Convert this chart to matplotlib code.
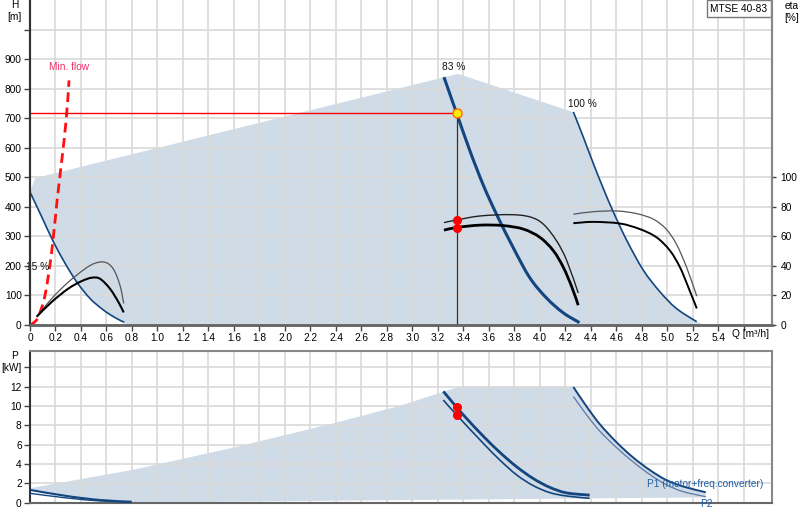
import numpy as np
import matplotlib
matplotlib.use("Agg")
import matplotlib.pyplot as plt
from matplotlib.patches import Polygon, PathPatch
from matplotlib.path import Path

plt.rcParams['font.family'] = ['Liberation Sans', 'DejaVu Sans']
FS = 7.3

# ---------------- data ----------------
# H curves [m] vs Q [m3/h]
q_h15 = [0.0, 0.092, 0.183, 0.275, 0.366, 0.47, 0.575, 0.667, 0.74]
h_15 = [450, 366, 282, 209, 146, 90, 51, 25, 9]
q_h83 = [3.247, 3.346, 3.451, 3.555, 3.66, 3.79, 3.92, 4.05, 4.18, 4.31]
h_83 = [839, 717, 589, 474, 374, 262, 160, 92, 42, 8]
q_h100 = [4.262, 4.34, 4.418, 4.497, 4.575, 4.68, 4.81, 4.94, 5.07, 5.23]
h_100 = [721, 636, 547, 462, 383, 287, 186, 113, 56, 11]
# envelope of the operating range (upper edge)
q_env = [0.04, 3.357, 4.256]
h_env = [497, 850, 721]
q_env_end = [5.29, 0.74]
h_env_end = [0, 0]
# min flow
q_min = [0.0, 0.03, 0.065, 0.118, 0.17, 0.212, 0.25, 0.285, 0.306]
h_min = [0, 8, 28, 101, 248, 419, 560, 701, 828]
# duty point
q_duty = 3.346
h_duty = 717

# efficiency curves [%]
q_e15 = [0.052, 0.17, 0.30, 0.405, 0.484, 0.549, 0.627, 0.693, 0.735]
eta15_lo = [5.6, 15.6, 24.6, 29.7, 32.0, 31.3, 24.6, 15.6, 8.5]
q_e15u = [0.052, 0.17, 0.30, 0.431, 0.51, 0.588, 0.653, 0.706, 0.735]
eta15_hi = [5.6, 17.9, 29.0, 38.0, 41.8, 42.5, 38.0, 26.8, 14.6]
q_e83 = [3.247, 3.346, 3.53, 3.71, 3.87, 4.0, 4.105, 4.183, 4.25, 4.30]
eta83_lo = [64.2, 66.0, 67.6, 67.3, 64.9, 59.3, 50.3, 39.1, 25.7, 13.4]
q_e83u = [3.247, 3.346, 3.53, 3.765, 3.92, 4.026, 4.13, 4.21, 4.30]
eta83_hi = [69.3, 71.1, 73.8, 74.7, 73.2, 68.3, 57.0, 43.6, 21.7]
q_e100 = [4.262, 4.418, 4.627, 4.784, 4.915, 5.02, 5.098, 5.163, 5.23]
eta100_lo = [68.9, 69.8, 68.7, 64.9, 59.3, 50.3, 39.1, 25.7, 11.2]
q_e100u = [4.262, 4.418, 4.60, 4.758, 4.89, 4.99, 5.07, 5.15, 5.23]
eta100_hi = [75.0, 76.7, 77.2, 75.4, 71.6, 64.9, 54.8, 39.1, 19.5]
eta_duty = [71.1, 65.6]

# power curves [kW]
q_p15 = [0.0, 0.288, 0.549, 0.797]
p1_15 = [1.32, 0.69, 0.28, 0.10]
p2_15 = [0.97, 0.49, 0.18, 0.05]
q_p83 = [3.242, 3.346, 3.425, 3.555, 3.686, 3.817, 3.948, 4.078, 4.21, 4.39]
p1_83 = [11.5, 9.87, 8.69, 6.87, 5.19, 3.71, 2.49, 1.58, 1.01, 0.78]
q_p83b = [3.242, 3.346, 3.555, 3.686, 3.817, 3.948, 4.078, 4.21, 4.39]
p2_83 = [10.6, 9.07, 6.14, 4.4, 2.87, 1.76, 1.04, 0.69, 0.45]
q_p100 = [4.262, 4.366, 4.47, 4.60, 4.73, 4.863, 4.99, 5.124, 5.30]
p1_100 = [11.95, 9.93, 8.1, 6.25, 4.68, 3.36, 2.35, 1.67, 1.08]
p2_100 = [10.97, 9.07, 7.38, 5.70, 4.22, 2.90, 1.86, 1.14, 0.62]
p_duty = [9.87, 9.07]
# power envelope
q_penv = [0.0, 0.81, 1.6, 2.38, 2.9, 3.37, 4.26]
p_penv = [1.5, 3.4, 5.7, 8.2, 10.0, 12.0, 12.0]
q_penv_end = [5.30, 0.8]
p_penv_end = [0.55, 0.02]

x_ticks = [round(0.2 * i, 1) for i in range(29)]
x_labels = ['0'] + [f'{v:.1f}' for v in x_ticks[1:28]] + ['']
h_ticks = list(range(0, 1001, 100))
h_labels = [str(v) for v in h_ticks[:-1]] + ['']
eta_ticks = [0, 20, 40, 60, 80, 100]
p_ticks = [0, 2, 4, 6, 8, 10, 12, 14]
p_labels = ['0', '2', '4', '6', '8', '10', '12', '[kW]']

# ---------------- styles ----------------
SHADE = '#cfdbe7'
GRID = '#d9d9d9'
NAVY = '#13457f'


def smooth_path(xs, ys):
    """Catmull-Rom curve through the given points, as a Bezier path."""
    p = np.column_stack([xs, ys]).astype(float)
    verts = [p[0]]
    codes = [Path.MOVETO]
    n = len(p)
    for i in range(n - 1):
        p0 = p[i - 1] if i > 0 else p[i]
        p1, p2 = p[i], p[i + 1]
        p3 = p[i + 2] if i + 2 < n else p[i + 1]
        c1 = p1 + (p2 - p0) / 6.0
        c2 = p2 - (p3 - p1) / 6.0
        verts += [c1, c2, p2]
        codes += [Path.CURVE4] * 3
    return Path(verts, codes)


def curve(a, xs, ys, **kw):
    a.add_patch(PathPatch(smooth_path(xs, ys), fc='none', capstyle='butt', **kw))


fig = plt.figure(figsize=(8, 5.2), dpi=100)
ax = fig.add_axes([30 / 800, 1 - 325 / 520, 742 / 800, 325 / 520])
axe = ax.twinx()
axp = fig.add_axes([30 / 800, 1 - 502.7 / 520, 742 / 800, 152 / 520])

XMAX = 5.82
ax.set_xlim(0, XMAX)
ax.set_ylim(0, 1100)
axe.set_ylim(0, 220)
axp.set_xlim(0, XMAX)
axp.set_ylim(0, 15.7)

for a in (ax, axp):
    a.set_axisbelow(True)
    a.grid(True, color=GRID, lw=1.2)
    a.set_xticks(x_ticks)

ax.set_xticklabels(x_labels, fontsize=FS)
ax.set_yticks(h_ticks)
ax.set_yticklabels(h_labels, fontsize=FS)
ax.tick_params(axis='both', direction='out', length=4, width=1, color='#444', pad=2)
axe.set_yticks(eta_ticks)
axe.set_yticklabels([str(v) for v in eta_ticks], fontsize=FS)
axe.tick_params(axis='y', direction='out', length=3, width=1, color='#444', pad=3)
axp.set_yticks(p_ticks)
axp.set_yticklabels(p_labels, fontsize=FS)
axp.set_xticklabels([])
axp.tick_params(axis='y', direction='out', length=4, width=1, color='#444', pad=2)
axp.tick_params(axis='x', length=0)

for a in (ax, axe):
    a.spines['top'].set_visible(False)
    a.spines['left'].set_color('#333')
    a.spines['left'].set_linewidth(1.5)
    a.spines['bottom'].set_color('#666')
    a.spines['bottom'].set_linewidth(1.8)
    a.spines['right'].set_color('#888')
    a.spines['right'].set_linewidth(1.5)
for s in axp.spines.values():
    s.set_color('#888')
    s.set_linewidth(1.5)
axp.spines['left'].set_color('#333')
axp.spines['bottom'].set_color('#666')

# ---------------- upper panel ----------------
poly_q = np.concatenate([q_env, q_h100[1:], q_env_end, q_h15[::-1]])
poly_h = np.concatenate([h_env, h_100[1:], h_env_end, h_15[::-1]])
ax.add_patch(Polygon(np.column_stack([poly_q, poly_h]), closed=True,
                     fc=SHADE, ec='none', zorder=0.2))

curve(ax, q_h15, h_15, ec=NAVY, lw=1.2, zorder=3)
curve(ax, q_h83, h_83, ec=NAVY, lw=2.2, zorder=3)
curve(ax, q_h100, h_100, ec=NAVY, lw=1.2, zorder=3)
curve(ax, q_min, h_min, ec='#ff1010', lw=2.0, ls=(0, (3.5, 2)), zorder=4)
ax.plot([0, q_duty], [h_duty, h_duty], color='#ff0000', lw=1.0, zorder=4)
ax.plot([q_duty, q_duty], [0, h_duty], color='#333333', lw=0.9, zorder=4)
ax.plot([q_duty], [h_duty], 'o', ms=6.5, mfc='#ffee00', mec='#ff6a00', mew=1.0, zorder=6)

curve(axe, q_e15u, eta15_hi, ec='#555555', lw=0.9)
curve(axe, q_e15, eta15_lo, ec='#000000', lw=1.5)
curve(axe, q_e83u, eta83_hi, ec='#222222', lw=1.0)
curve(axe, q_e83, eta83_lo, ec='#000000', lw=2.0)
curve(axe, q_e100u, eta100_hi, ec='#555555', lw=0.9)
curve(axe, q_e100, eta100_lo, ec='#000000', lw=1.4)
axe.plot([q_duty, q_duty], eta_duty, 'o', ls='none', ms=5.5, color='#ff0000', zorder=6)

ax.text(0.149, 873, 'Min. flow', color='#f0306a', fontsize=FS, va='center', ha='left')
ax.text(-0.03, 196, '15 %', color='#111', fontsize=FS, va='center', ha='left', clip_on=False, zorder=7)
ax.text(3.234, 873, '83 %', color='#111', fontsize=FS, va='center', ha='left')
ax.text(4.222, 749, '100 %', color='#111', fontsize=FS, va='center', ha='left')
ax.text(-0.12, 1082, 'H', fontsize=FS, ha='center', va='center', clip_on=False)
ax.text(-0.12, 1041, '[m]', fontsize=FS, ha='center', va='center', clip_on=False)
ax.text(5.51, -0.028, 'Q [m³/h]', fontsize=FS, ha='left', va='center',
        transform=ax.get_xaxis_transform(), clip_on=False)
fig.text(792 / 800, 1 - 6 / 520, 'eta', fontsize=FS, ha='center', va='center')
fig.text(792 / 800, 1 - 18 / 520, '[%]', fontsize=FS, ha='center', va='center')
ax.text(0.994, 0.988, 'MTSE 40-83', fontsize=FS, ha='right', va='top', transform=ax.transAxes,
        bbox=dict(boxstyle='square,pad=0.35', fc='white', ec='#777', lw=1.0), zorder=8)

# ---------------- lower panel ----------------
pq = np.concatenate([q_penv, q_p100[1:], q_penv_end, q_p15[::-1]])
pp = np.concatenate([p_penv, p1_100[1:], p_penv_end, p1_15[::-1]])
axp.add_patch(Polygon(np.column_stack([pq, pp]), closed=True, fc=SHADE, ec='none', zorder=0.2))

curve(axp, q_p15, p1_15, ec=NAVY, lw=1.5, zorder=3)
curve(axp, q_p15, p2_15, ec=NAVY, lw=1.0, zorder=3)
curve(axp, q_p83, p1_83, ec=NAVY, lw=2.0, zorder=3)
curve(axp, q_p83b, p2_83, ec=NAVY, lw=1.2, zorder=3)
curve(axp, q_p100, p1_100, ec=NAVY, lw=1.4, zorder=3)
curve(axp, q_p100, p2_100, ec='#5a78a6', lw=0.9, zorder=3)
axp.plot([q_duty, q_duty], p_duty, 'o', ls='none', ms=5.5, color='#ff0000', zorder=6)

axp.text(4.84, 1.93, 'P1 (motor+freq.converter)', color='#1f5fa8', fontsize=FS, ha='left', va='center', zorder=7)
axp.text(5.255, -0.15, 'P2', color='#1f5fa8', fontsize=FS, ha='left', va='center', clip_on=False, zorder=7)
axp.text(-0.12, 15.2, 'P', fontsize=FS, ha='center', va='center', clip_on=False)

fig.savefig('out.png', dpi=100)
